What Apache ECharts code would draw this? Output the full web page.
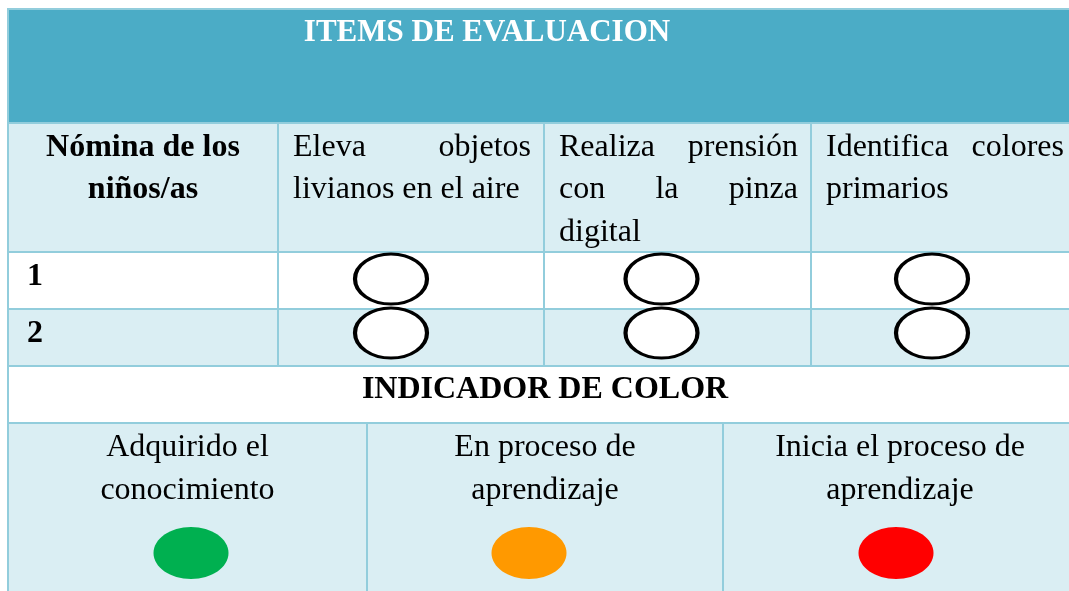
<!DOCTYPE html>
<html><head><meta charset="utf-8">
<script src="https://cdn.jsdelivr.net/npm/echarts@6/dist/echarts.min.js"></script>
<style>html,body{margin:0;padding:0;background:#fff}#c{width:1069px;height:591px}</style>
</head><body><div id="c"></div>
<script>
// ---- data ----
const title = 'ITEMS DE EVALUACION';
const nameHeader = 'Nómina de los\nniños/as';
const items = ['Eleva objetos\nlivianos en el aire', 'Realiza prensión\ncon la pinza\ndigital', 'Identifica colores\nprimarios'];
const students = ['1', '2'];
const indicatorTitle = 'INDICADOR DE COLOR';
const levels = ['Adquirido el\nconocimiento', 'En proceso de\naprendizaje', 'Inicia el proceso de\naprendizaje'];
const levelColors = ['#00B050', '#FF9900', '#FF0000'];

// ---- layout / style ----
const W = 1069, H = 591;
const FONT = "'Liberation Serif', 'Times New Roman', serif";
const FS = 32, LH = 42.5;
const TEAL = '#4BACC6', LIGHT = '#DAEEF3', LINE = '#92CDDC';
const tableX = [8, 278, 544, 811, 1077];
const legendX = [8, 367, 723, 1077];
const Y = { top: 9, head: 123, r1: 252, r2: 309, ind: 366, leg: 423, end: 640 };
const PADL = 15, PADR = 13;
const legendEllipseX = [191, 529, 896];

const mctx = document.createElement('canvas').getContext('2d');
function tw(s, bold, size) {
  mctx.font = (bold ? 'bold ' : '') + size + 'px ' + FONT;
  return mctx.measureText(s).width;
}
function justified(text, x0, x1, yFirst) {
  const out = [];
  const lines = text.split('\n');
  lines.forEach((ln, li) => {
    const y = yFirst + li * LH;
    const ws = ln.split(' ');
    if (li === lines.length - 1 || ws.length < 2) {
      out.push({ text: ln, x: x0, y, align: 'left' });
    } else {
      const widths = ws.map(w => tw(w, false, FS));
      const total = widths.reduce((a, b) => a + b, 0);
      const gap = (x1 - x0 - total) / (ws.length - 1);
      let x = x0;
      ws.forEach((w, i) => { out.push({ text: w, x, y, align: 'left' }); x += widths[i] + gap; });
    }
  });
  return out;
}
function centered(text, cx, yFirst, bold) {
  return text.split('\n').map((ln, li) => ({ text: ln, x: cx, y: yFirst + li * LH, align: 'center', bold }));
}

const cells = [];
cells.push({ x0: tableX[0], y0: Y.top, x1: tableX[4], y1: Y.head, fill: TEAL,
  texts: [{ text: title, x: 487, y: 33, align: 'center', bold: true, color: '#fff', size: 31 }] });
cells.push({ x0: tableX[0], y0: Y.head, x1: tableX[1], y1: Y.r1, fill: LIGHT,
  texts: centered(nameHeader, (tableX[0] + tableX[1]) / 2, 147.5, true) });
items.forEach((it, i) => {
  cells.push({ x0: tableX[i + 1], y0: Y.head, x1: tableX[i + 2], y1: Y.r1, fill: LIGHT,
    texts: justified(it, tableX[i + 1] + PADL, tableX[i + 2] - PADR, 147.5) });
});
students.forEach((s, r) => {
  const y0 = r === 0 ? Y.r1 : Y.r2, y1 = r === 0 ? Y.r2 : Y.ind;
  const fill = r === 0 ? '#FFFFFF' : LIGHT;
  cells.push({ x0: tableX[0], y0, x1: tableX[1], y1, fill,
    texts: [{ text: s, x: 27, y: y0 + 25, align: 'left', bold: true }] });
  items.forEach((it, i) => cells.push({ x0: tableX[i + 1], y0, x1: tableX[i + 2], y1, fill, texts: [] }));
});
cells.push({ x0: tableX[0], y0: Y.ind, x1: tableX[4], y1: Y.leg, fill: '#FFFFFF',
  texts: [{ text: indicatorTitle, x: 545, y: 390, align: 'center', bold: true }] });
levels.forEach((lv, i) => {
  cells.push({ x0: legendX[i], y0: Y.leg, x1: legendX[i + 1], y1: Y.end, fill: LIGHT,
    texts: centered(lv, (legendX[i] + legendX[i + 1]) / 2, 448, false),
    ellipse: { cx: legendEllipseX[i], cy: 553, rx: 37.5, ry: 26, color: levelColors[i] } });
});

function renderItem(params, api) {
  const c = cells[params.dataIndex];
  const p0 = api.coord([c.x0, c.y0]), p1 = api.coord([c.x1, c.y1]);
  const children = [{
    type: 'rect',
    shape: { x: p0[0], y: p0[1], width: p1[0] - p0[0], height: p1[1] - p0[1] },
    style: { fill: c.fill, stroke: LINE, lineWidth: 2 }
  }];
  c.texts.forEach(t => {
    const p = api.coord([t.x, t.y]);
    children.push({
      type: 'text', x: p[0], y: p[1],
      style: {
        text: t.text, fill: t.color || '#000',
        font: (t.bold ? 'bold ' : '') + (t.size || FS) + 'px ' + FONT,
        textAlign: t.align, textVerticalAlign: 'middle'
      }
    });
  });
  if (c.ellipse) {
    const e = c.ellipse; const p = api.coord([e.cx, e.cy]);
    children.push({ type: 'ellipse', shape: { cx: p[0], cy: p[1], rx: e.rx, ry: e.ry }, style: { fill: e.color } });
  }
  return { type: 'group', children };
}

const marks = [];
students.forEach((s, r) => items.forEach((it, i) => marks.push([i, r])));

const chart = echarts.init(document.getElementById('c'), null, { renderer: 'canvas' });
chart.setOption({
  animation: false,
  backgroundColor: '#fff',
  grid: [
    { left: 0, top: 0, width: W, height: H },
    { left: 255.75, top: 252, width: 811.5, height: 108 }
  ],
  xAxis: [
    { type: 'value', min: 0, max: W, show: false, gridIndex: 0 },
    { type: 'category', data: items, show: false, gridIndex: 1 }
  ],
  yAxis: [
    { type: 'value', min: 0, max: H, inverse: true, show: false, gridIndex: 0 },
    { type: 'category', data: students, inverse: true, show: false, gridIndex: 1 }
  ],
  series: [
    {
      type: 'custom', xAxisIndex: 0, yAxisIndex: 0, clip: false, silent: true,
      renderItem, data: cells.map(c => [c.x0, c.y0]), encode: { x: 0, y: 1 }
    },
    {
      type: 'scatter', xAxisIndex: 1, yAxisIndex: 1, silent: true, z: 5,
      symbol: 'circle', symbolSize: [72, 50], data: marks,
      itemStyle: { color: '#fff', borderColor: '#000', borderWidth: 3.5, opacity: 1 }
    }
  ]
});
</script></body></html>
